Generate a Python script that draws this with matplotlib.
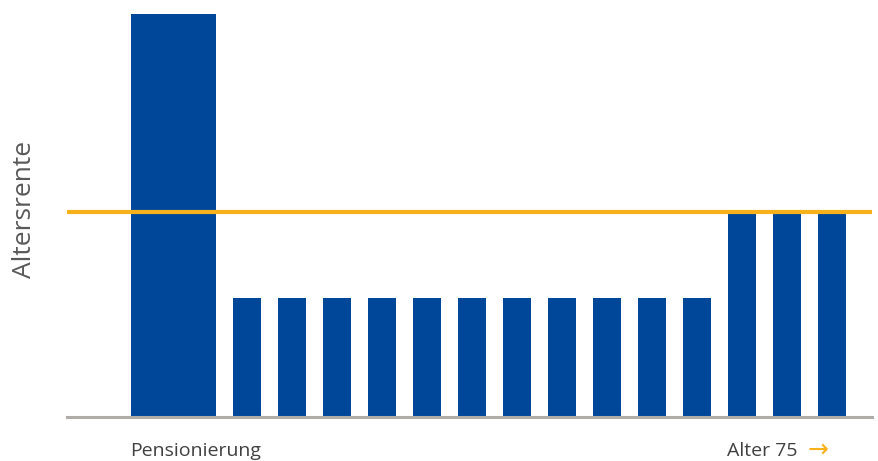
import matplotlib.pyplot as plt

# data
bar_values = [100, 29.5, 29.5, 29.5, 29.5, 29.5, 29.5, 29.5, 29.5, 29.5, 29.5, 29.5, 50.7, 50.7, 50.7]
line_value = 50.9
ylabel = "Altersrente"
start_label = "Pensionierung"
end_label = "Alter 75"

blue = "#00479a"
orange = "#f7b11a"

fig = plt.figure(figsize=(8.79, 4.61), dpi=100)
ax = fig.add_axes([67 / 879, 1 - 417 / 461, 805 / 879, 403 / 461])

# first bar is the wide one, the rest are narrow and evenly spaced
xs = [2.37] + [4 + i for i in range(len(bar_values) - 1)]
widths = [1.89] + [0.62] * (len(bar_values) - 1)
ax.bar(xs, bar_values, width=widths, color=blue, zorder=2)
ax.axhline(line_value, color=orange, lw=3, zorder=3)

ax.set_xlim(0, 805 / 45)
ax.set_ylim(0, 100)
for s in ["top", "right", "left"]:
    ax.spines[s].set_visible(False)
ax.spines["bottom"].set_color("#b0aca8")
ax.spines["bottom"].set_linewidth(2.2)
ax.set_xticks([])
ax.set_yticks([])

fig.text(25 / 879, 1 - 209 / 461, ylabel, rotation=90, ha="center", va="center",
         fontsize=19, color="#595959", family="Open Sans")
fig.text(130 / 879, 1 - 451 / 461, start_label, ha="left", va="center",
         fontsize=14, color="#404040", family="Open Sans")
fig.text(727 / 879, 1 - 451 / 461, end_label, ha="left", va="center",
         fontsize=14, color="#404040", family="Open Sans")
fig.text(808 / 879, 1 - 450 / 461, "\u2192", ha="left", va="center",
         fontsize=18, color=orange, family="DejaVu Sans")

fig.savefig("out.png", dpi=100)
